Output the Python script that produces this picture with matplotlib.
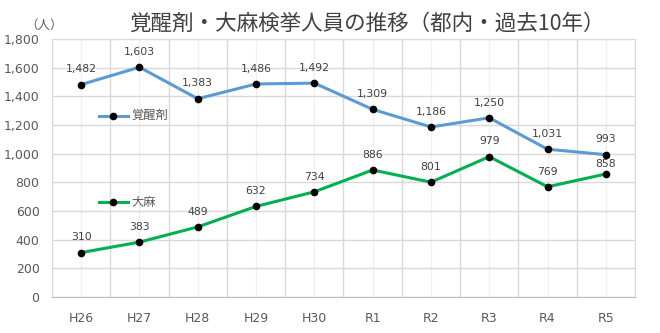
import numpy as np
import matplotlib
matplotlib.use("Agg")
import matplotlib.pyplot as plt
from matplotlib.ticker import FuncFormatter

plt.rcParams['font.family'] = ['Noto Sans CJK JP', 'DejaVu Sans']

# data
years = ['H26', 'H27', 'H28', 'H29', 'H30', 'R1', 'R2', 'R3', 'R4', 'R5']
stimulants = [1482, 1603, 1383, 1486, 1492, 1309, 1186, 1250, 1031, 993]
cannabis = [310, 383, 489, 632, 734, 886, 801, 979, 769, 858]

blue = '#5B9BD5'
green = '#00B050'
txt = '#595959'

fig = plt.figure(figsize=(6.6, 3.33), dpi=100)
ax = fig.add_axes([0.0788, 0.108, 0.8833, 0.775])

x = np.arange(len(years))
ax.plot(x, stimulants, color=blue, lw=2.2, marker='o', ms=4.5,
        mfc='black', mec='black', zorder=3)
ax.plot(x, cannabis, color=green, lw=2.2, marker='o', ms=4.5,
        mfc='black', mec='black', zorder=3)

for i, v in enumerate(stimulants):
    ax.annotate(f'{v:,}', (x[i], v), xytext=(0, 11), textcoords='offset points',
                ha='center', va='center', fontsize=7.8, color='#404040',
                family='DejaVu Sans')
for i, v in enumerate(cannabis):
    off = 7.5 if i == len(cannabis) - 1 else 11
    ax.annotate(f'{v:,}', (x[i], v), xytext=(0, off), textcoords='offset points',
                ha='center', va='center', fontsize=7.8, color='#404040',
                family='DejaVu Sans')

ax.set_xlim(-0.5, len(years) - 0.5)
ax.set_ylim(0, 1800)
ax.set_yticks(np.arange(0, 1801, 200))
ax.yaxis.set_major_formatter(FuncFormatter(lambda v, p: f'{int(v):,}'))
ax.set_xticks(x)
ax.set_xticklabels(years)
ax.set_xticks(np.arange(-0.5, len(years), 1.0), minor=True)

ax.tick_params(axis='both', which='both', length=0, colors=txt, labelsize=9)
ax.tick_params(axis='x', pad=11)
ax.tick_params(axis='y', pad=9)
for lab in ax.get_xticklabels() + ax.get_yticklabels():
    lab.set_family('DejaVu Sans')

ax.grid(axis='y', color='#D9D9D9', lw=1)
ax.grid(axis='x', which='minor', color='#D9D9D9', lw=1)
ax.grid(axis='x', which='major', color='#F0F0F0', lw=1)
ax.set_axisbelow(True)
for s in ax.spines.values():
    s.set_color('#D9D9D9')
ax.spines['bottom'].set_color('#BFBFBF')

# in-plot legend entries
lx = [0.3, 0.8]
ax.plot(lx, [1265, 1265], color=blue, lw=2.2)
ax.plot([0.55], [1265], 'o', color='black', ms=4.5)
ax.text(0.86, 1265, '覚醒剤', va='center', ha='left', fontsize=8.8, color=txt)
ax.plot(lx, [660, 660], color=green, lw=2.2)
ax.plot([0.55], [660], 'o', color='black', ms=4.5)
ax.text(0.86, 660, '大麻', va='center', ha='left', fontsize=8.8, color=txt)

fig.text(0.555, 0.928, '覚醒剤・大麻検挙人員の推移（都内・過去10年）',
         ha='center', va='center', fontsize=15.5, color='#404040')
fig.text(0.066, 0.925, '（人）', ha='center', va='center', fontsize=9, color=txt)

fig.savefig('out.png', dpi=100)
